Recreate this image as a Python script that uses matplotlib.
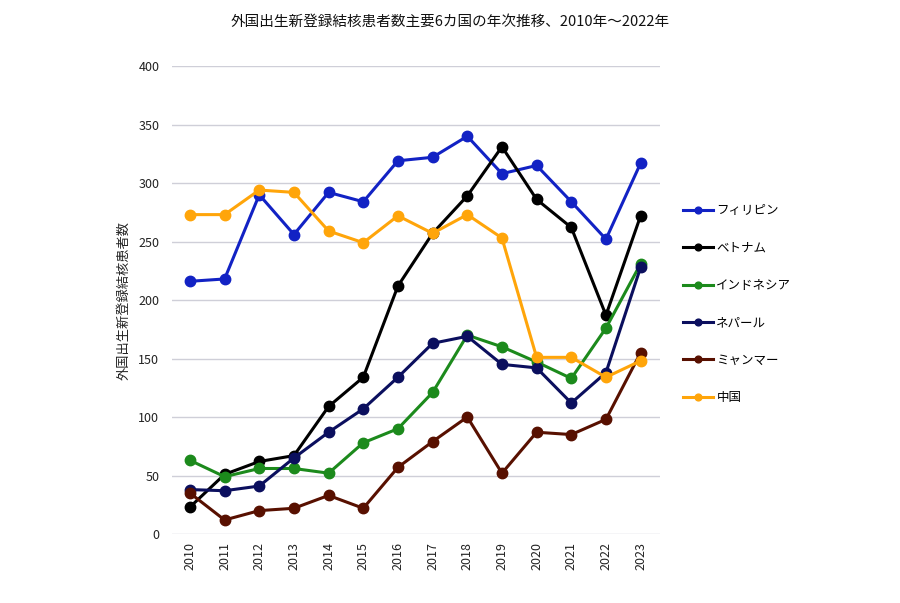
import matplotlib
matplotlib.use("Agg")
import matplotlib.pyplot as plt

plt.rcParams['font.family'] = ['Noto Sans CJK JP', 'DejaVu Sans']

years = list(range(2010, 2024))
philippines = [216, 218, 290, 256, 292, 284, 319, 322, 340, 308, 315, 284, 252, 317]
vietnam = [23, 51, 62, 67, 109, 134, 212, 257, 289, 331, 286, 262, 187, 272]
indonesia = [63, 49, 56, 56, 52, 78, 90, 121, 170, 160, 147, 133, 176, 231]
nepal = [38, 37, 41, 65, 87, 107, 134, 163, 169, 145, 142, 112, 138, 228]
myanmar = [35, 12, 20, 22, 33, 22, 57, 79, 100, 52, 87, 85, 98, 155]
china = [273, 273, 294, 292, 259, 249, 272, 257, 273, 253, 151, 151, 134, 148]

series = [
    ("フィリピン", philippines, "#1222c4"),
    ("ベトナム", vietnam, "#000000"),
    ("インドネシア", indonesia, "#1c8a1c"),
    ("ネパール", nepal, "#0b0f5e"),
    ("ミャンマー", myanmar, "#581000"),
    ("中国", china, "#ffa50a"),
]

fig = plt.figure(figsize=(9, 6.03), dpi=100)
ax = fig.add_axes([0.191, 0.1144, 0.542, 0.7761])

x = list(range(len(years)))
for name, vals, col in series:
    ax.plot(x, vals, color=col, lw=2.2, marker='o', markersize=7.5, label=name)

ax.set_xlim(-0.52, 13.55)
ax.set_ylim(0, 400)
ax.set_yticks(range(0, 401, 50))
ax.set_xticks(x)
ax.set_xticklabels([str(y) for y in years], rotation=90, fontsize=9, color='#222222')
ax.tick_params(axis='y', labelsize=9, colors='#222222', length=0, pad=9)
ax.tick_params(axis='x', length=0, pad=6)
ax.grid(axis='y', color='#cfcfd8', lw=1)
ax.set_axisbelow(True)
for s in ax.spines.values():
    s.set_visible(False)

ax.set_ylabel("外国出生新登録結核患者数", fontsize=9.5, color='#222222', labelpad=6)
fig.suptitle("外国出生新登録結核患者数主要6カ国の年次推移、2010年～2022年", fontsize=10.5, x=0.5, y=0.975, color='#111111')

leg = fig.legend(loc='upper left', bbox_to_anchor=(0.746, 0.68), frameon=False,
                 fontsize=9, labelspacing=1.95, handlelength=2.4, handletextpad=0.3,
                 markerscale=0.65)

fig.savefig("out.png", dpi=100, facecolor='white')
